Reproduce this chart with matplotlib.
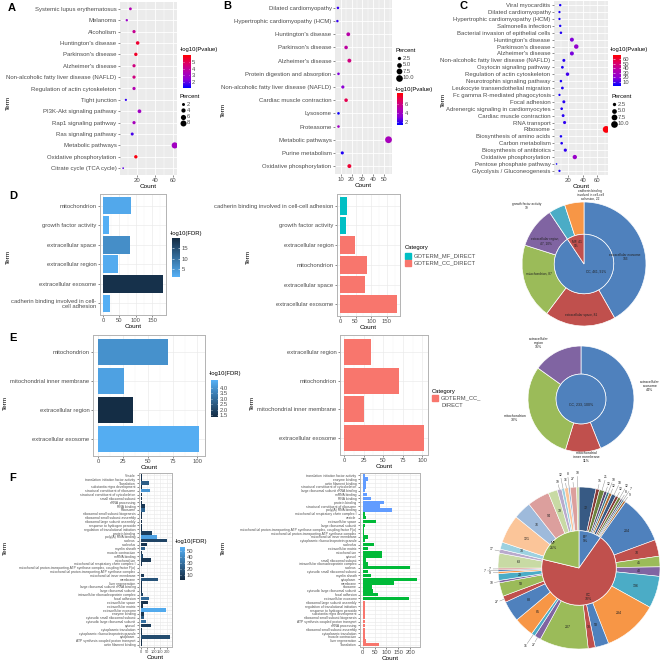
import numpy as np
import matplotlib.pyplot as plt
from matplotlib.colors import LinearSegmentedColormap, Normalize

plt.rcParams['font.family'] = ['Liberation Sans', 'DejaVu Sans']

W, H = 663, 660
TXT = '#4D4D4D'
DOT_SCALE = 2.3

# ---------------- A : KEGG dot plot ----------------
a_terms = ["Systemic lupus erythematosus", "Melanoma", "Alcoholism",
           "Huntington's disease", "Parkinson's disease", "Alzheimer's disease",
           "Non-alcoholic fatty liver disease (NAFLD)", "Regulation of actin cytoskeleton",
           "Tight junction", "PI3K-Akt signaling pathway", "Rap1 signaling pathway",
           "Ras signaling pathway", "Metabolic pathways", "Oxidative phosphorylation",
           "Citrate cycle (TCA cycle)"]
a_count = [13, 9, 17, 21, 19, 17, 17, 17, 8, 23, 17, 15, 62, 19, 5]
a_logp = [3.5, 2.8, 4.1, 5.5, 5.6, 4.4, 4.4, 3.5, 1.5, 3.0, 3.2, 1.7, 3.0, 5.9, 1.9]
a_total = 730

# ---------------- B ----------------
b_terms = ["Dilated cardiomyopathy", "Hypertrophic cardiomyopathy (HCM)",
           "Huntington's disease", "Parkinson's disease", "Alzheimer's disease",
           "Protein digestion and absorption", "Non-alcoholic fatty liver disease (NAFLD)",
           "Cardiac muscle contraction", "Lysosome", "Proteasome", "Metabolic pathways",
           "Purine metabolism", "Oxidative phosphorylation"]
b_count = [7.5, 7, 17, 15, 18, 8, 12, 15, 8, 8, 54, 11.5, 18]
b_logp = [2.0, 2.0, 5.0, 5.2, 6.0, 3.0, 3.2, 7.0, 1.5, 4.0, 4.3, 1.7, 7.5]
b_total = 520

# ---------------- C ----------------
c_terms = ["Viral myocarditis", "Dilated cardiomyopathy", "Hypertrophic cardiomyopathy (HCM)",
           "Salmonella infection", "Bacterial invasion of epithelial cells",
           "Huntington's disease", "Parkinson's disease", "Alzheimer's disease",
           "Non-alcoholic fatty liver disease (NAFLD)", "Oxytocin signaling pathway",
           "Regulation of actin cytoskeleton", "Neurotrophin signaling pathway",
           "Leukocyte transendothelial migration", "Fc gamma R-mediated phagocytosis",
           "Focal adhesion", "Adrenergic signaling in cardiomyocytes",
           "Cardiac muscle contraction", "RNA transport", "Ribosome",
           "Biosynthesis of amino acids", "Carbon metabolism", "Biosynthesis of antibiotics",
           "Oxidative phosphorylation", "Pentose phosphate pathway",
           "Glycolysis / Gluconeogenesis"]
c_count = [9, 8, 8, 9, 10, 25, 31, 25, 14, 12, 19, 10, 12, 8, 14, 11, 13, 15, 72,
           10, 11, 16, 29, 4, 8]
c_logp = [4, 4, 4, 4, 5, 17, 22, 16, 6, 5, 9, 4, 5, 4, 6, 5, 6, 7, 67, 4, 5, 7, 24, 3, 4]
c_total = 690

# ---------------- D ----------------
d_terms = ["mitochondrion", "growth factor activity", "extracellular space",
           "extracellular region", "extracellular exosome",
           "cadherin binding involved in cell-\ncell adhesion"]
d_count = [86, 19, 81, 47, 183, 22]
d_fdr = [2.5, 1.5, 6.0, 2.0, 19.0, 1.5]

d2_terms = ["cadherin binding involved in cell-cell adhesion", "growth factor activity",
            "extracellular region", "mitochondrion", "extracellular space",
            "extracellular exosome"]
d2_count = [22, 19, 47, 86, 81, 183]
d2_cat = ["MF", "MF", "CC", "CC", "CC", "CC"]

d_pie_outer = [183, 81, 86, 47, 19, 22]
d_pie_outer_lab = ["extracellular exosome\n183", "extracellular space, 81", "mitochondrion, 87",
                   "extracellular region,\n47, 10%", "growth factor activity\n19",
                   "cadherin binding\ninvolved in cell-cell\nadhesion, 22"]
d_pie_inner = [397, 41]
d_pie_inner_lab = ["CC, 461, 91%", "MF, 41\n9%"]

# ---------------- E ----------------
e_terms = ["mitochondrion", "mitochondrial inner membrane", "extracellular region",
           "extracellular exosome"]
e_count = [70, 26, 35, 102]
e_fdr = [3.9, 4.3, 1.4, 4.6]

e2_terms = ["extracellular region", "mitochondrion", "mitochondrial inner membrane",
            "extracellular exosome"]
e2_count = [35, 70, 25, 102]

e_pie_outer = [102, 25, 70, 35]
e_pie_outer_lab = ["extracellular\nexosome\n44%", "mitochondrial\ninner membrane\n11%",
                   "mitochondrion\n30%", "extracellular\nregion\n15%"]
e_pie_inner = [233]
e_pie_inner_lab = ["CC, 233, 100%"]

# ---------------- F ----------------
f_terms = ["Vesicle", "translation initiation factor activity", "Translation",
           "substantia nigra development", "structural constituent of ribosome",
           "structural constituent of cytoskeleton", "small ribosomal subunit",
           "rRNA processing", "RNA binding", "Ribosome",
           "ribosomal small subunit biogenesis", "ribosomal small subunit assembly",
           "ribosomal large subunit assembly", "response to hydrogen peroxide",
           "regulation of translational initiation", "protein binding", "poly(A) RNA binding",
           "nucleus", "nucleolus", "myelin sheath", "muscle contraction", "mRNA binding",
           "mitochondrion", "mitochondrial respiratory chain complex I",
           "mitochondrial proton-transporting ATP synthase complex, coupling factor F(o)",
           "mitochondrial proton-transporting ATP synthase complex",
           "mitochondrial inner membrane", "membrane", "liver regeneration",
           "large ribosomal subunit rRNA binding", "large ribosomal subunit",
           "intracellular ribonucleoprotein complex", "focal adhesion", "extracellular space",
           "extracellular matrix", "extracellular exosome", "enzyme binding",
           "cytosolic small ribosomal subunit", "cytosolic large ribosomal subunit", "cytosol",
           "cytoplasmic translation", "cytoplasmic ribonucleoprotein granule", "cytoplasm",
           "ATP synthesis coupled proton transport", "actin filament binding"]
f_count = [12, 8, 68, 8, 72, 12, 12, 10, 35, 37, 8, 10, 8, 10, 8, 90, 123, 200, 47, 33,
           10, 17, 82, 10, 7, 7, 23, 132, 12, 10, 8, 21, 65, 58, 21, 197, 23, 23, 42, 82,
           10, 10, 228, 10, 12]
f_fdr = [4, 4, 22, 3, 45, 4, 5, 5, 8, 26, 4, 4, 4, 4, 3, 10, 50, 12, 6, 24, 4, 15, 8,
         5, 3, 3, 8, 18, 4, 4, 4, 12, 28, 5, 5, 53, 7, 22, 30, 9, 6, 5, 15, 4, 4]

f2_terms = ["translation initiation factor activity", "enzyme binding", "actin filament binding",
            "structural constituent of cytoskeleton", "large ribosomal subunit rRNA binding",
            "mRNA binding", "RNA binding", "protein binding", "structural constituent of ribosome",
            "poly(A) RNA binding",
            "mitochondrial respiratory chain complex I", "vesicle", "extracellular space",
            "large ribosomal subunit",
            "mitochondrial proton-transporting ATP synthase complex, coupling factor F(o)",
            "mitochondrial proton-transporting ATP synthase complex",
            "mitochondrial inner membrane", "cytoplasmic ribonucleoprotein granule", "nucleolus",
            "extracellular matrix", "mitochondrion", "cytosol", "small ribosomal subunit",
            "intracellular ribonucleoprotein complex", "nucleus",
            "cytosolic small ribosomal subunit", "myelin sheath", "cytoplasm", "membrane",
            "ribosome", "cytosolic large ribosomal subunit", "focal adhesion",
            "extracellular exosome",
            "ribosomal large subunit assembly", "regulation of translational initiation",
            "response to hydrogen peroxide", "substantia nigra development",
            "ribosomal small subunit biogenesis", "ATP synthesis coupled proton transport",
            "rRNA processing", "ribosomal small subunit assembly", "cytoplasmic translation",
            "muscle contraction", "liver regeneration", "Translation"]
f2_count = [8, 23, 12, 12, 10, 17, 35, 90, 72, 123,
            10, 12, 58, 8, 7, 7, 23, 10, 47, 21, 82, 82, 12, 21, 200, 23, 33, 228, 132, 37,
            42, 65, 197,
            8, 8, 10, 8, 8, 10, 10, 10, 10, 10, 12, 68]
f2_cat = ["MF"] * 10 + ["CC"] * 23 + ["BP"] * 12

f_pie_outer = [72, 15, 21, 12, 10, 12, 18, 12, 12, 8, 7, 9,
               204, 70, 45, 40, 136, 234, 58, 30, 207, 27, 16, 85, 88, 27, 58, 10, 29, 9, 7, 7,
               63, 17, 30, 121, 76, 94, 39, 19, 12, 16, 8, 27, 10]
f_pie_group = ["BP"] * 12 + ["CC"] * 22 + ["MF"] * 11
f_pie_inner_lab = ["BP\n9%", "CC\n70%", "MF\n21%"]

PV_CMAP = LinearSegmentedColormap.from_list(
    'pv', ['#0000FF', '#8A00D8', '#B400AE', '#DD0065', '#FF0000'])
FDR_CMAP = LinearSegmentedColormap.from_list('fdr', ['#132B43', '#56B1F7'])
FDR_CMAP_R = FDR_CMAP.reversed()
XL = ['#4F81BD', '#C0504D', '#9BBB59', '#8064A2', '#4BACC6', '#F79646']
CAT_COL = {"MF": "#619CFF", "CC": "#00BA38", "BP": "#F8766D"}
D_CAT_COL = {"MF": "#00BFC4", "CC": "#F8766D"}


def rect(x0, y0, x1, y1):
    return [x0 / W, 1 - y1 / H, (x1 - x0) / W, (y1 - y0) / H]


def ftext(fig, x, y, s, **kw):
    kw.setdefault('fontsize', 4.2)
    kw.setdefault('color', 'black')
    fig.text(x / W, 1 - y / H, s, **kw)


def shade(c, f):
    c = np.array(plt.matplotlib.colors.to_rgb(c))
    if f < 0:
        return tuple(c * (1 + f))
    return tuple(c + (1 - c) * f)


def dot_panel(fig, box, terms, counts, logp, total, norm, xlim, xticks, xminor):
    ax = fig.add_axes(rect(*box))
    n = len(terms)
    y = np.arange(n, 0, -1)
    pct = np.asarray(counts) / total * 100
    ax.scatter(counts, y, s=pct * DOT_SCALE, c=logp, cmap=PV_CMAP, norm=norm,
               linewidths=0, zorder=3)
    ax.set_facecolor('#EBEBEB')
    ax.set_xlim(*xlim)
    ax.set_ylim(0.4, n + 0.6)
    ax.set_xticks(xticks)
    ax.set_xticks(xminor, minor=True)
    ax.set_yticks(y)
    ax.set_yticklabels(terms)
    ax.grid(True, which='major', color='white', lw=0.6)
    ax.grid(True, which='minor', axis='x', color='white', lw=0.3)
    ax.set_axisbelow(True)
    for s in ax.spines.values():
        s.set_visible(False)
    ax.tick_params(which='major', length=1.5, width=0.4, color='#333333',
                   labelsize=4.3, pad=1, labelcolor=TXT)
    ax.tick_params(which='minor', length=0)
    ax.set_xlabel('Count', fontsize=4.6, labelpad=0.5)
    return ax


def bar_panel(fig, box, terms, counts, colors, xlim, xticks, xminor, fs=4.2, xfs=4.2):
    ax = fig.add_axes(rect(*box))
    n = len(terms)
    y = np.arange(n, 0, -1)
    ax.barh(y, counts, height=0.9, color=colors, zorder=3)
    ax.set_xlim(*xlim)
    ax.set_ylim(0.4, n + 0.6)
    ax.set_xticks(xticks)
    ax.set_xticks(xminor, minor=True)
    ax.set_yticks(y)
    ax.set_yticklabels(terms, linespacing=0.95)
    ax.grid(True, which='major', color='#EBEBEB', lw=0.5)
    ax.grid(True, which='minor', axis='x', color='#F4F4F4', lw=0.3)
    ax.set_axisbelow(True)
    for s in ax.spines.values():
        s.set_color('#B3B3B3')
        s.set_linewidth(0.7)
    ax.tick_params(which='major', length=1.5, width=0.4, color='#333333',
                   labelsize=fs, pad=1, labelcolor=TXT)
    ax.tick_params(axis='x', labelsize=xfs)
    ax.tick_params(which='minor', length=0)
    ax.set_xlabel('Count', fontsize=4.6, labelpad=0.5)
    return ax


def colorbar(fig, box, cmap, vmin, vmax, ticks, labels):
    cax = fig.add_axes(rect(*box))
    grad = np.linspace(vmin, vmax, 200).reshape(-1, 1)
    cax.imshow(grad, aspect='auto', cmap=cmap, origin='lower',
               extent=[0, 1, vmin, vmax])
    cax.set_xlim(0, 1)
    cax.set_ylim(vmin, vmax)
    cax.set_xticks([])
    cax.yaxis.tick_right()
    cax.set_yticks(ticks)
    cax.set_yticklabels(labels)
    cax.tick_params(length=0, labelsize=4.2, pad=1.2, labelcolor=TXT)
    for s in cax.spines.values():
        s.set_visible(False)
    cax.hlines(ticks, 0, 0.2, color='white', lw=0.4)
    cax.hlines(ticks, 0.8, 1, color='white', lw=0.4)


def size_legend(ov, x, y, values, dy):
    ov.text(x - 2, y, "Percent", fontsize=4.2, va='center')
    for i, v in enumerate(values):
        yy = y + 7 + i * dy
        ov.scatter([x + 1], [yy], s=v * DOT_SCALE, color='black', linewidths=0)
        ov.text(x + 5, yy, str(v), fontsize=4.2, va='center', color=TXT)


def pie_axes(fig, cx, cy, r, pad):
    ax = fig.add_axes(rect(cx - r - pad, cy - r - pad, cx + r + pad, cy + r + pad))
    return ax, 1 + pad / r


def main():
    fig = plt.figure(figsize=(W / 100, H / 100), dpi=100)

    # ---- A ----
    dot_panel(fig, (120, 2, 177, 175), a_terms, a_count, a_logp, a_total,
              Normalize(1.05, 6.1), (1.5, 64.5), [20, 40, 60], [10, 30, 50])
    colorbar(fig, (183, 55, 190, 88), PV_CMAP, 1.05, 6.1, [2, 3, 4, 5], ['2', '3', '4', '5'])
    ftext(fig, 180, 50, "-log10(Pvalue)", va='center')

    # ---- B ----
    dot_panel(fig, (335, 0, 392, 174), b_terms, b_count, b_logp, b_total,
              Normalize(1.3, 8.4), (4.8, 57.2), [10, 20, 30, 40, 50], [15, 25, 35, 45, 55])
    colorbar(fig, (397, 93, 403, 125), PV_CMAP, 1.3, 8.4, [2, 4, 6], ['2', '4', '6'])
    ftext(fig, 395, 89, "-log10(Pvalue)", va='center')

    # ---- C ----
    dot_panel(fig, (554, 1, 608, 175), c_terms, c_count, c_logp, c_total,
              Normalize(1, 69), (0.5, 74.5), [20, 40, 60], [10, 30, 50, 70])
    colorbar(fig, (613, 55, 621, 86), PV_CMAP, 1, 69, [10, 20, 30, 40, 50, 60],
             ['10', '20', '30', '40', '50', '60'])
    ftext(fig, 610, 50, "-log10(Pvalue)", va='center')

    # ---- D bars ----
    dnorm = Normalize(1.2, 19.8)
    bar_panel(fig, (100, 194, 166, 315), d_terms, d_count,
              [FDR_CMAP_R(dnorm(v)) for v in d_fdr], (-9.2, 192), [0, 50, 100, 150],
              [25, 75, 125, 175])
    colorbar(fig, (172, 238, 180, 277), FDR_CMAP_R, 1.2, 19.8, [5, 10, 15], ['5', '10', '15'])
    ftext(fig, 170, 233, "-log10(FDR)", va='center')

    bar_panel(fig, (337, 194, 400, 316), d2_terms, d2_count,
              [D_CAT_COL[c] for c in d2_cat], (-9.2, 192), [0, 50, 100, 150],
              [25, 75, 125, 175])

    # ---- E bars ----
    enorm = Normalize(1.35, 4.7)
    bar_panel(fig, (93, 335, 204.5, 456), e_terms, e_count,
              [FDR_CMAP(enorm(v)) for v in e_fdr], (-5.1, 107.1), [0, 25, 50, 75, 100],
              [12.5, 37.5, 62.5, 87.5])
    colorbar(fig, (211, 380, 218, 417), FDR_CMAP, 1.35, 4.7,
             [1.5, 2.0, 2.5, 3.0, 3.5, 4.0], ['1.5', '2.0', '2.5', '3.0', '3.5', '4.0'])
    ftext(fig, 209, 374, "-log10(FDR)", va='center')

    bar_panel(fig, (340, 335, 428, 455), e2_terms, e2_count, ['#F8766D'] * 4,
              (-5.1, 107.1), [0, 25, 50, 75, 100], [12.5, 37.5, 62.5, 87.5])

    # ---- F bars ----
    fnorm = Normalize(1.8, 56)
    bar_panel(fig, (139, 473, 172, 647), f_terms, f_count,
              [FDR_CMAP(fnorm(v)) for v in f_fdr], (-11.5, 241.5),
              [0, 50, 100, 150, 200], [25, 75, 125, 175, 225], fs=2.4, xfs=2.8)
    colorbar(fig, (180, 547, 185, 580), FDR_CMAP, 1.8, 56, [10, 20, 30, 40, 50],
             ['10', '20', '30', '40', '50'])
    ftext(fig, 175, 542, "-log10(FDR)", va='center')

    bar_panel(fig, (360, 473, 420, 647), f2_terms, f2_count,
              [CAT_COL[c] for c in f2_cat], (-11.5, 241.5),
              [0, 50, 100, 150, 200], [25, 75, 125, 175, 225], fs=2.4)

    # ---- D pie ----
    ax, lim = pie_axes(fig, 584, 264, 62, 14)
    ax.pie(d_pie_outer, radius=1, startangle=90, counterclock=False, colors=XL,
           wedgeprops=dict(width=0.52, edgecolor='white', linewidth=0.5))
    ax.pie(d_pie_inner, radius=0.48, startangle=90, counterclock=False,
           colors=XL[:2], wedgeprops=dict(edgecolor='white', linewidth=0.5))
    ax.set_xlim(-lim, lim)
    ax.set_ylim(-lim, lim)
    d_lab_xy = [(0.66, 0.12), (-0.05, -0.82), (-0.72, -0.16), (-0.62, 0.37),
                (-0.92, 0.93), (0.1, 1.12)]
    for t, (x, y) in zip(d_pie_outer_lab, d_lab_xy):
        ax.text(x, y, t, fontsize=2.3, ha='center', va='center', color='#222222',
                clip_on=False, linespacing=1.0)
    for t, (x, y) in zip(d_pie_inner_lab, [(0.2, -0.12), (-0.12, 0.32)]):
        ax.text(x, y, t, fontsize=2.3, ha='center', va='center', color='#222222')

    # ---- E pie ----
    ax, lim = pie_axes(fig, 581, 399, 53, 14)
    ax.pie(e_pie_outer, radius=1, startangle=90, counterclock=False, colors=XL[:4],
           wedgeprops=dict(width=0.53, edgecolor='white', linewidth=0.5))
    ax.pie(e_pie_inner, radius=0.47, startangle=90, counterclock=False, colors=XL[:1],
           wedgeprops=dict(edgecolor='white', linewidth=0.5))
    ax.set_xlim(-lim, lim)
    ax.set_ylim(-lim, lim)
    e_lab_xy = [(1.3, 0.25), (0.1, -1.1), (-1.25, -0.35), (-0.8, 1.05)]
    for t, (x, y) in zip(e_pie_outer_lab, e_lab_xy):
        ax.text(x, y, t, fontsize=2.6, ha='center', va='center', color='#222222',
                clip_on=False, linespacing=1.0)
    ax.text(0, -0.1, e_pie_inner_lab[0], fontsize=2.6, ha='center', va='center',
            color='#222222')

    # ---- F pie ----
    groups = ["BP", "CC", "MF"]
    inner = [sum(v for v, g in zip(f_pie_outer, f_pie_group) if g == k) for k in groups]
    cols = []
    for i in range(len(f_pie_outer)):
        base = XL[i % 6]
        cols.append(shade(base, -0.3) if i < 12 else
                    (shade(base, 0.45) if i >= 32 else base))
    ax, lim = pie_axes(fig, 579, 568, 81, 12)
    ow, _ = ax.pie(f_pie_outer, radius=1, startangle=90, counterclock=False, colors=cols,
                   wedgeprops=dict(width=0.54, edgecolor='white', linewidth=0.4))
    ax.pie(inner, radius=0.46, startangle=90, counterclock=False, colors=XL[:3],
           wedgeprops=dict(edgecolor='white', linewidth=0.5))
    ax.set_xlim(-lim, lim)
    ax.set_ylim(-lim, lim)
    k = 0
    for w, v in zip(ow, f_pie_outer):
        a = np.deg2rad((w.theta1 + w.theta2) / 2)
        if v >= 29:
            ax.text(0.74 * np.cos(a), 0.74 * np.sin(a), str(v), fontsize=2.6,
                    ha='center', va='center', color='#222222')
            k = 0
        else:
            r = 1.1 + 0.07 * (k % 2)
            ax.plot([np.cos(a), (r - 0.04) * np.cos(a)], [np.sin(a), (r - 0.04) * np.sin(a)],
                    color='#808080', lw=0.3, clip_on=False)
            ax.text(r * np.cos(a), r * np.sin(a), str(v), fontsize=2.4,
                    ha='center', va='center', color='#222222', clip_on=False)
            k += 1
    for t, xy in zip(f_pie_inner_lab, [(0.08, 0.36), (0.12, -0.36), (-0.32, 0.28)]):
        ax.text(xy[0], xy[1], t, fontsize=2.6, ha='center', va='center', color='#222222')

    # ---- overlay: legends, axis titles, panel letters ----
    ov = fig.add_axes([0, 0, 1, 1])
    ov.set_xlim(0, W)
    ov.set_ylim(H, 0)
    ov.axis('off')
    size_legend(ov, 182, 97, [2, 4, 6, 8], 6.3)
    size_legend(ov, 398, 51, [2.5, 5.0, 7.5, 10.0], 6.6)
    size_legend(ov, 613, 97, [2.5, 5.0, 7.5, 10.0], 6.6)

    # category legends
    ov.text(405, 248, "Category", fontsize=4.2, va='center')
    ov.add_patch(plt.Rectangle((405, 252.5), 6, 6, color=D_CAT_COL["MF"]))
    ov.add_patch(plt.Rectangle((405, 259.5), 6, 6, color=D_CAT_COL["CC"]))
    ov.text(414, 255.5, "GOTERM_MF_DIRECT", fontsize=4.2, va='center', color=TXT)
    ov.text(414, 262.5, "GOTERM_CC_DIRECT", fontsize=4.2, va='center', color=TXT)

    ov.text(432, 391, "Category", fontsize=4.2, va='center')
    ov.add_patch(plt.Rectangle((432, 395), 6, 6, color="#F8766D"))
    ov.text(441, 398, "GOTERM_CC_", fontsize=4.2, va='center', color=TXT)
    ov.text(441, 405.5, "DIRECT", fontsize=4.2, va='center', color=TXT)

    for x, y in [(8, 103), (223, 110), (443, 100), (8, 257), (248, 257),
                 (5, 403), (252, 403), (5, 548), (223, 548)]:
        ov.text(x, y, "Term", fontsize=4.6, rotation=90, ha='center', va='center')

    for letter, x, y in [("A", 12, 8), ("B", 227, 6), ("C", 463, 6), ("D", 13, 196),
                         ("E", 13, 338), ("F", 13, 478)]:
        ov.text(x, y, letter, fontsize=8, fontweight='bold', ha='center', va='center')

    fig.savefig("out.png", dpi=100)
    plt.close(fig)


if __name__ == "__main__":
    main()
